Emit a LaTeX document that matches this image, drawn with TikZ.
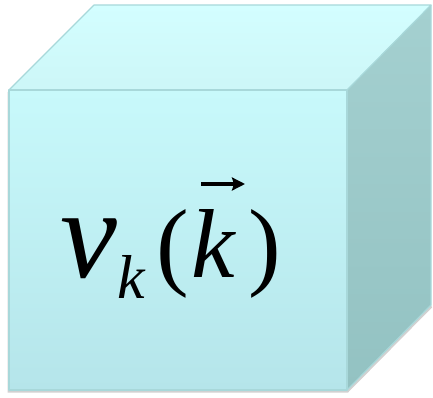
\documentclass[tikz,border=0pt]{standalone}
\usepackage{fontspec}
\setmainfont{Liberation Serif}
\usetikzlibrary{arrows.meta}
\definecolor{frontTop}{HTML}{C8F9FB}
\definecolor{frontBot}{HTML}{B5E5EA}
\definecolor{topFace}{HTML}{D3FEFF}
\definecolor{sideTop}{HTML}{A4D0D0}
\definecolor{sideBot}{HTML}{93C2C2}
\definecolor{edgeCol}{HTML}{A8D8DA}
\tikzset{
  edge/.style={draw=edgeCol, line width=1.2pt, line join=round},
  shadowface/.style={fill=black, opacity=0.18},
}
\begin{document}
\begin{tikzpicture}[x=1pt,y=1pt]
\useasboundingbox (0,0) rectangle (433,397);
% corners
\coordinate (A) at (9,307);
\coordinate (B) at (347,307);
\coordinate (C) at (347,7);
\coordinate (D) at (9,7);
\coordinate (E) at (94,392);
\coordinate (F) at (431,392);
\coordinate (G) at (431,92);
% soft shadow
\fill[shadowface] ([shift={(-1.5,-2.5)}]A) -- ([shift={(-1.5,-2.5)}]D) -- ([shift={(1,-2.5)}]C) -- ([shift={(1,-2.5)}]G) -- (G) -- (C) -- (D) -- (A) -- cycle;
% faces
\shade[top color=frontTop, bottom color=frontBot] (A) -- (B) -- (C) -- (D) -- cycle;
\shade[top color=topFace, bottom color=topFace!97!black] (A) -- (E) -- (F) -- (B) -- cycle;
\shade[top color=sideTop, bottom color=sideBot] (B) -- (F) -- (G) -- (C) -- cycle;
% edges
\draw[edge] (A) -- (B) -- (C) -- (D) -- cycle;
\draw[edge] (A) -- (E) -- (F) -- (B);
\draw[edge] (F) -- (G) -- (C);
% label
\node[anchor=base west, inner sep=0pt] (lbl) at (60,120)
  {\fontsize{128}{128}\selectfont\itshape ν\raisebox{-21pt}{\fontsize{62}{62}\selectfont k}\hspace{12pt}\fontsize{98}{98}\selectfont\upshape(\hspace{2pt}\itshape k\hspace{14pt}\upshape)};
\coordinate (arrS) at (201,213);
\coordinate (arrE) at (245,213);
\draw[line width=3.6pt, -{Stealth[length=13pt,width=13pt,inset=2pt]}] (arrS) -- (arrE);
\end{tikzpicture}
\end{document}
